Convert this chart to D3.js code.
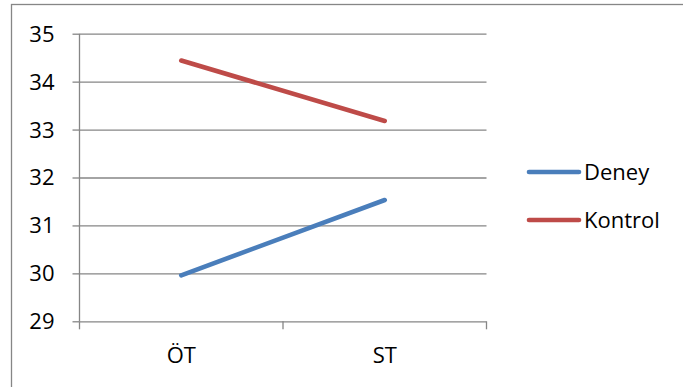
<!DOCTYPE html>
<html>
<head>
<meta charset="utf-8">
<script src="https://cdn.jsdelivr.net/npm/d3@7"></script>
<style>
  html, body { margin: 0; padding: 0; background: #fff; }
  svg { display: block; }
  text { font-family: "Open Sans", "Noto Sans", sans-serif; fill: #000; }
</style>
</head>
<body>
<svg id="chart" width="683" height="387"></svg>
<script>
// Measurement occasions and group means
const categories = ["ÖT", "ST"];
const deney = [29.96, 31.53];
const kontrol = [34.44, 33.18];
const seriesNames = ["Deney", "Kontrol"];
const seriesColors = ["#4A7EBB", "#BE4B48"];
const yTicks = [29, 30, 31, 32, 33, 34, 35];

const series = [
  { name: seriesNames[0], values: deney, color: seriesColors[0] },
  { name: seriesNames[1], values: kontrol, color: seriesColors[1] }
];

const svg = d3.select("#chart");
const grid = "#868686";
const fontSize = 22;

// Outer chart frame (runs past the right and bottom edges)
svg.append("rect")
  .attr("x", 11.5).attr("y", 4.5)
  .attr("width", 720).attr("height", 420)
  .attr("fill", "none").attr("stroke", grid).attr("stroke-width", 1.3);

const plot = { left: 79.5, right: 486.5, top: 33.7, bottom: 321.3 };

const x = d3.scaleBand().domain(categories).range([plot.left, plot.right]);
const y = d3.scaleLinear().domain([29, 35]).range([plot.bottom, plot.top]);

// Horizontal gridlines with y axis labels
const yAxis = d3.axisLeft(y)
  .tickValues(yTicks)
  .tickFormat(d3.format("d"))
  .tickSize(-(plot.right - plot.left))
  .tickPadding(25);
const gy = svg.append("g").attr("transform", `translate(${plot.left},0)`).call(yAxis);
gy.select(".domain").remove();
gy.selectAll(".tick line").attr("stroke", grid).attr("stroke-width", 1.3);
gy.selectAll(".tick text").attr("font-size", fontSize).attr("dy", "0.34em");
// Small outside tick marks on the y axis
gy.selectAll(".tick").append("line")
  .attr("x1", -7).attr("x2", 0)
  .attr("stroke", grid).attr("stroke-width", 1.3);

// Vertical y axis line
svg.append("line")
  .attr("x1", plot.left).attr("x2", plot.left)
  .attr("y1", plot.top).attr("y2", plot.bottom)
  .attr("stroke", grid).attr("stroke-width", 1.3);

// Category axis: baseline, boundary ticks and labels
const gx = svg.append("g").attr("transform", `translate(0,${plot.bottom})`);
const boundaries = categories.map(c => x(c)).concat([x(categories[categories.length - 1]) + x.bandwidth()]);
gx.selectAll("line.tk").data(boundaries).join("line")
  .attr("class", "tk")
  .attr("x1", d => d).attr("x2", d => d)
  .attr("y1", 0).attr("y2", 8)
  .attr("stroke", grid).attr("stroke-width", 1.3);
gx.selectAll("text").data(categories).join("text")
  .attr("x", d => x(d) + x.bandwidth() / 2)
  .attr("y", 42)
  .attr("text-anchor", "middle")
  .attr("font-size", fontSize)
  .text(d => d);

// Series lines
const line = d3.line()
  .x((d, i) => x(categories[i]) + x.bandwidth() / 2)
  .y(d => y(d));

svg.selectAll("path.series").data(series).join("path")
  .attr("class", "series")
  .attr("d", d => line(d.values))
  .attr("fill", "none")
  .attr("stroke", d => d.color)
  .attr("stroke-width", 4.6)
  .attr("stroke-linecap", "round");

// Legend
const legend = svg.append("g");
const items = legend.selectAll("g").data(series).join("g")
  .attr("transform", (d, i) => `translate(0,${172 + i * 48})`);
items.append("line")
  .attr("x1", 529).attr("x2", 579)
  .attr("y1", 0).attr("y2", 0)
  .attr("stroke", d => d.color)
  .attr("stroke-width", 4.6)
  .attr("stroke-linecap", "round");
items.append("text")
  .attr("x", 584).attr("y", 0).attr("dy", "0.36em")
  .attr("font-size", fontSize)
  .text(d => d.name);
</script>
</body>
</html>
